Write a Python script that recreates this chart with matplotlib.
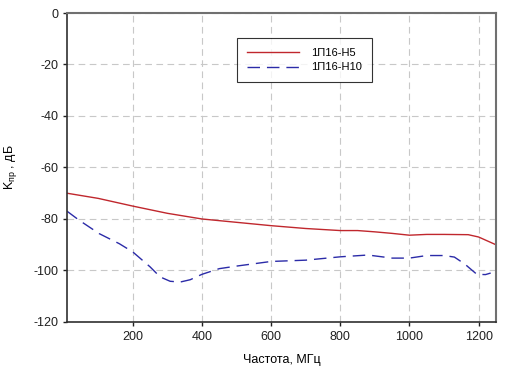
import matplotlib
matplotlib.use("Agg")
import matplotlib.pyplot as plt
import numpy as np

plt.rcParams['font.family'] = ['Liberation Sans', 'DejaVu Sans']
plt.rcParams['axes.unicode_minus'] = False

# Data
freq_h5 = [10, 100, 200, 300, 400, 500, 600, 700, 800, 850, 900, 950, 1000, 1050, 1100, 1170, 1200, 1250]
k_h5 = [-70, -72, -75, -77.8, -80, -81.3, -82.6, -83.7, -84.5, -84.5, -85, -85.6, -86.3, -86, -86, -86.1, -87, -90]

freq_h10 = [10, 45, 103, 161, 200, 250, 279, 308, 337, 366, 400, 450, 500, 600, 700, 800, 880, 950, 1000, 1050, 1100, 1130, 1160, 1195, 1220, 1235]
k_h10 = [-77, -80.5, -85.7, -89.6, -92.8, -98.6, -102.5, -104.2, -104.5, -103.6, -101.5, -99.3, -98.3, -96.5, -96, -94.7, -94, -95.2, -95.2, -94.2, -94.2, -94.8, -97.5, -101.5, -101.6, -101]

series_labels = ['1П16-Н5', '1П16-Н10']
xticks = [200, 400, 600, 800, 1000, 1200]
yticks = [0, -20, -40, -60, -80, -100, -120]

fig = plt.figure(figsize=(5.16, 3.77), dpi=100)
ax = fig.add_axes([0.130, 0.146, 0.831, 0.8195])

ax.plot(freq_h5, k_h5, color='#c0272d', lw=1.0, label=series_labels[0])
ax.plot(freq_h10, k_h10, color='#2b2ba8', lw=1.0, dashes=(9, 5), label=series_labels[1])

ax.set_xlim(10, 1250)
ax.set_ylim(-120, 0)
ax.set_xticks(xticks)
ax.set_yticks(yticks)
ax.tick_params(labelsize=9, direction='out', length=3, width=1, colors='#202020')

ax.grid(True, color='#c8c8c8', linestyle=(0, (6, 4)), lw=0.8)
ax.set_axisbelow(True)

for side in ['left', 'bottom']:
    ax.spines[side].set_color('#303030')
    ax.spines[side].set_linewidth(1.2)
for side in ['top', 'right']:
    ax.spines[side].set_color('#707070')
    ax.spines[side].set_linewidth(1.5)

ax.set_xlabel('Частота, МГц', fontsize=9, labelpad=8)
ax.set_ylabel('K$_{\\mathregular{пр}}$ , дБ', fontsize=9, labelpad=10)

leg = ax.legend(loc='upper left', bbox_to_anchor=(0.396, 0.919), fontsize=8,
                frameon=True, fancybox=False, handlelength=4.7, handletextpad=1.1,
                borderpad=0.9, borderaxespad=0, labelspacing=0.4)
leg.get_frame().set_edgecolor('black')
leg.get_frame().set_linewidth(0.8)

fig.savefig('out.png', dpi=100)
